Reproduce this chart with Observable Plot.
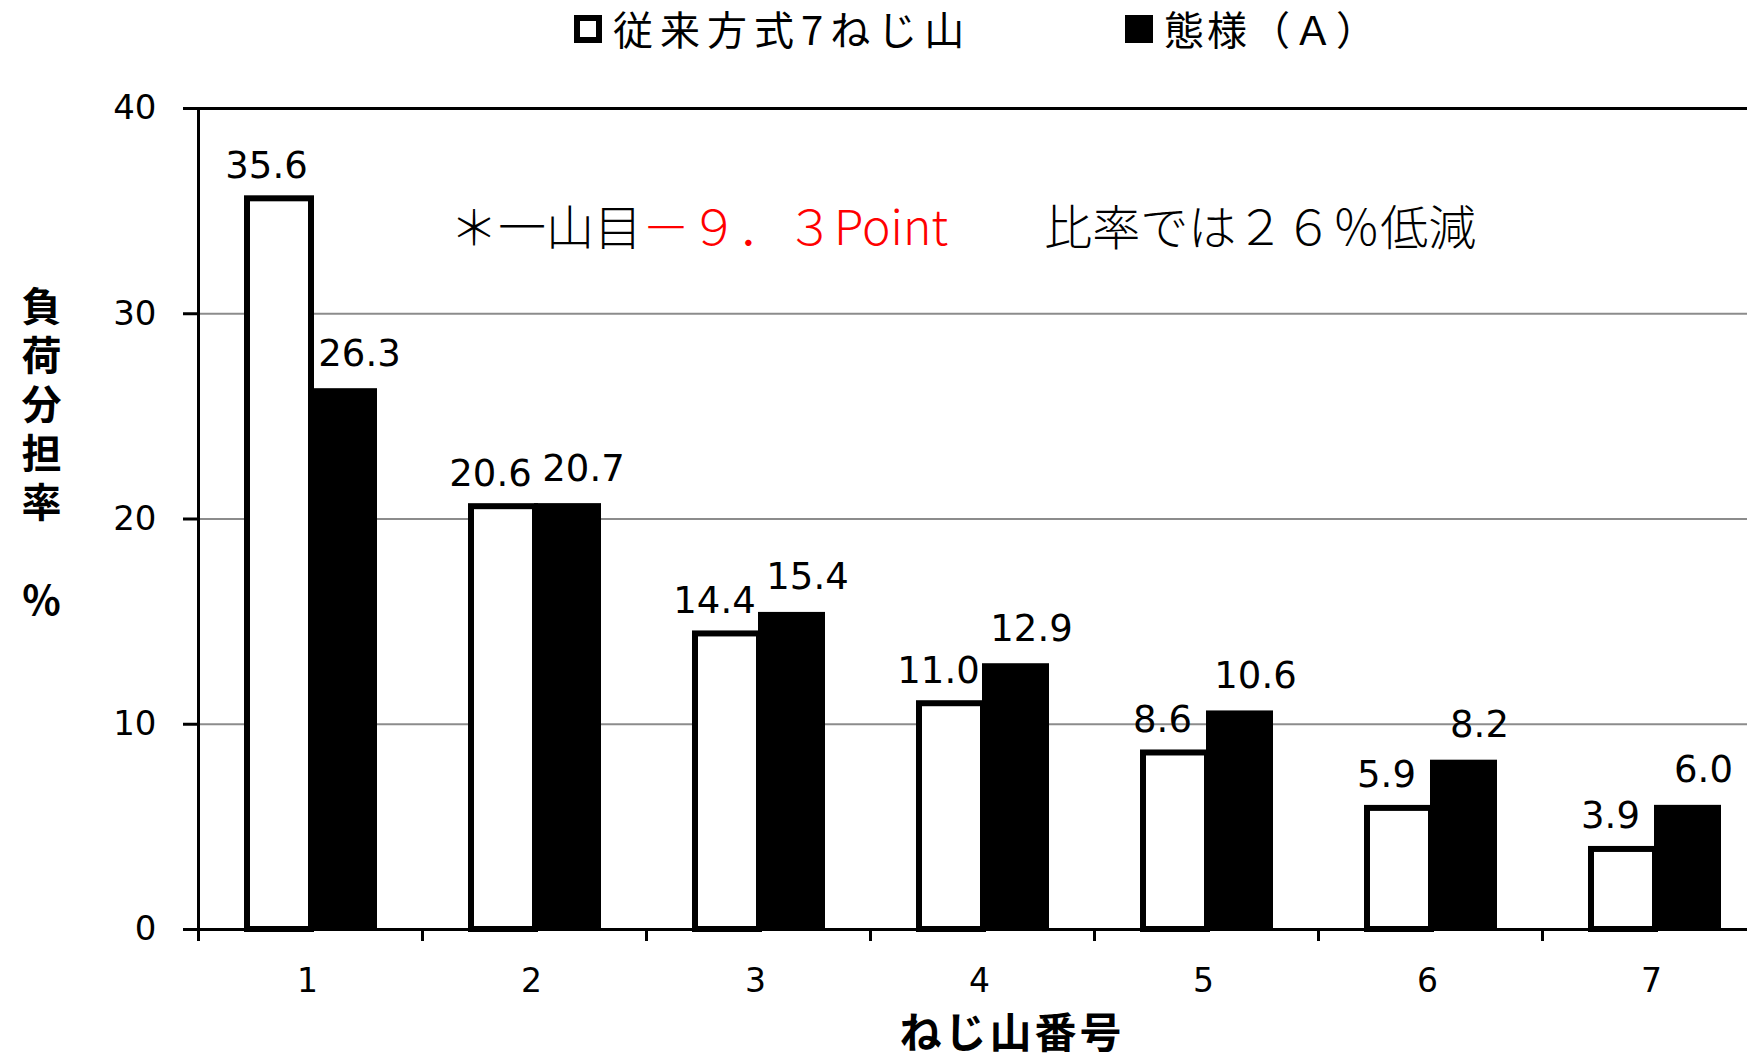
<!DOCTYPE html>
<html><head><meta charset="utf-8">
<script src="https://cdn.jsdelivr.net/npm/d3@7"></script>
<script src="https://cdn.jsdelivr.net/npm/@observablehq/plot@0.6"></script>
<style>
html,body{margin:0;padding:0;background:#fff;overflow:hidden;}
#chart{position:relative;width:1747px;height:1060px;}
</style></head><body><div id="chart"></div>
<script>
// ---- data ----
const categories = ["1", "2", "3", "4", "5", "6", "7"];
const conventional = [35.6, 20.6, 14.4, 11.0, 8.6, 5.9, 3.9];
const modeA = [26.3, 20.7, 15.4, 12.9, 10.6, 8.2, 6.0];
const seriesNames = ["従来方式7ねじ山", "態様（Ａ）"];
const yTicks = [0, 10, 20, 30, 40];
const gridTicks = [10, 20, 30];
const yLabelText = "負荷分担率　%";
const xLabelText = "ねじ山番号";
const annotationParts = [
  {text: "＊一山目", color: "black"},
  {text: "－９．３Point", color: "red"},
  {text: "　　比率では２６％低減", color: "black"}
];

const rows = categories.map((c, i) => ({cat: c, conv: conventional[i], a: modeA[i]}));

// ---- layout ----
const W = 1747, H = 1060, left = 198, band = 224;
const cjk = "'Noto Sans CJK JP', sans-serif";

const plot = Plot.plot({
  width: W, height: H,
  marginLeft: left, marginRight: 0, marginTop: 108, marginBottom: 131,
  style: {fontFamily: "'DejaVu Sans', sans-serif", fontSize: "33px", color: "black", background: "white", overflow: "hidden"},
  x: {type: "band", domain: categories, range: [left, left + band * 7], padding: 0, label: null},
  y: {domain: [0, 40], label: null},
  marks: [
    Plot.gridY(gridTicks, {stroke: "#8c8c8c", strokeOpacity: 1, strokeWidth: 2}),
    Plot.barY(rows, {x: "cat", y: "conv", fill: "white", stroke: "black", strokeWidth: 6, insetLeft: 49, insetRight: 111}),
    Plot.barY(rows, {x: "cat", y: "a", fill: "black", stroke: "black", strokeWidth: 2, insetLeft: 113, insetRight: 46}),
    Plot.ruleY([0, 40], {stroke: "black", strokeWidth: 3}),
    Plot.frame({anchor: "left", stroke: "black", strokeWidth: 3}),
    Plot.axisY({ticks: yTicks, tickSize: 15, tickPadding: 27, strokeWidth: 3, label: null, fontSize: 34}),
    Plot.axisX({tickSize: 12, tickFormat: () => "", dx: -band / 2, strokeWidth: 3, label: null}),
    Plot.axisX({tickSize: 0, tickPadding: 39, label: null, dx: -3}),
    Plot.text(rows, {x: "cat", y: "conv", text: d => d.conv.toFixed(1), dx: -44, dy: -21, lineAnchor: "bottom", fontSize: 37}),
    Plot.text(rows, {x: "cat", y: "a", text: d => d.a.toFixed(1), dx: 49, dy: -24, lineAnchor: "bottom", fontSize: 37})
  ]
});

document.getElementById("chart").appendChild(plot);

const svg = d3.select(plot);

// legend
const lg = svg.append("g").style("font-family", cjk).style("font-size", "40px");
lg.append("rect").attr("x", 577).attr("y", 18).attr("width", 22).attr("height", 22)
  .attr("fill", "white").attr("stroke", "black").attr("stroke-width", 6);
lg.append("text").attr("x", 613).attr("y", 45).attr("text-anchor", "start").attr("fill", "black").style("letter-spacing", "7px").text(seriesNames[0]);
lg.append("rect").attr("x", 1125).attr("y", 15).attr("width", 28).attr("height", 28).attr("fill", "black");
lg.append("text").attr("x", 1164).attr("y", 45).attr("text-anchor", "start").attr("fill", "black").style("letter-spacing", "3px").text(seriesNames[1]);

// annotation
const at = svg.append("text").attr("x", 450).attr("y", 245).attr("text-anchor", "start")
  .style("font-family", cjk).style("font-size", "48px").style("font-weight", 300).style("white-space", "pre");
annotationParts.forEach(p => at.append("tspan").attr("fill", p.color).text(p.text));

// y label (vertical text)
svg.append("text").attr("x", 41.5).attr("y", 286).attr("text-anchor", "start")
  .style("writing-mode", "vertical-rl").style("text-orientation", "upright")
  .style("font-family", cjk).style("font-size", "40px").style("font-weight", "bold").style("letter-spacing", "9px")
  .style("white-space", "pre").attr("fill", "black").text(yLabelText);

// x label
svg.append("text").attr("x", 1012).attr("y", 1048).attr("text-anchor", "middle")
  .style("font-family", cjk).style("font-size", "42px").style("font-weight", "bold").style("letter-spacing", "3px")
  .attr("fill", "black").text(xLabelText);
</script>
</body></html>
